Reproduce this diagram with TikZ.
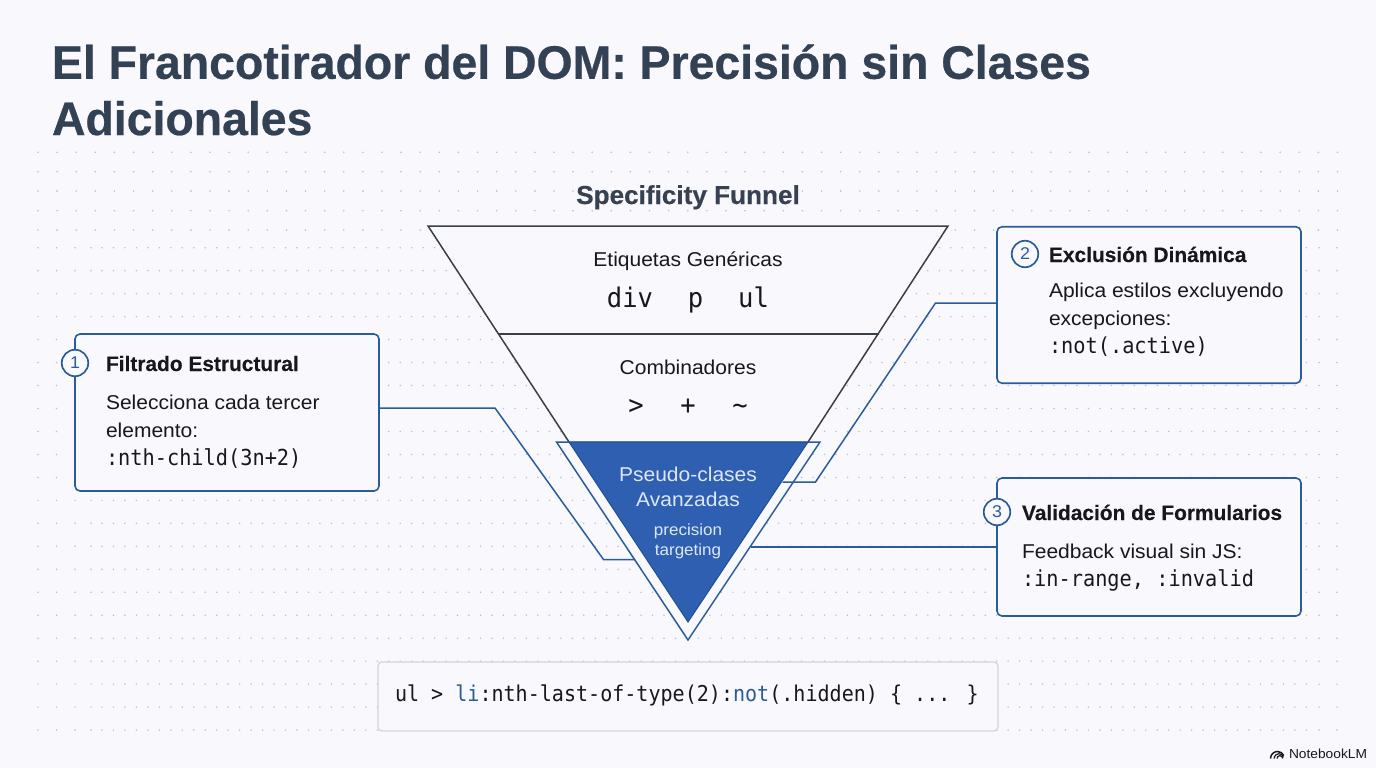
\documentclass[tikz,border=0pt]{standalone}
\usepackage{fontspec}
\setmainfont{Liberation Sans}
\newfontfamily\titlef[UprightFont=* Bold,FakeStretch=.987,FakeBold=.5]{Liberation Sans}
\newfontfamily\subf[UprightFont=* Bold,FakeStretch=1.005,FakeBold=.4]{Liberation Sans}
\newfontfamily\headf[UprightFont=* Bold,FakeStretch=.995,FakeBold=.3]{Liberation Sans}
\newfontfamily\bodyf[FakeStretch=1.05]{Liberation Sans}
\newfontfamily\codef[FakeStretch=.92]{DejaVu Sans Mono}
\newfontfamily\bigcodef[FakeStretch=.945]{DejaVu Sans Mono}
\definecolor{pagebg}{HTML}{F8F8FD}
\definecolor{dotc}{HTML}{BDBFCA}
\definecolor{slate}{HTML}{334155}
\definecolor{subslate}{HTML}{374151}
\definecolor{ink}{HTML}{16181D}
\definecolor{linkblue}{HTML}{2A5B9B}
\definecolor{fillblue}{HTML}{2F5FB0}
\definecolor{edgeblue}{HTML}{23508F}
\definecolor{funnelline}{HTML}{3A3F47}
\definecolor{codeline}{HTML}{D4D5DB}
\definecolor{paleblue}{HTML}{DCE7F7}
\tikzset{
  txt/.style={inner sep=0pt,outer sep=0pt,anchor=base west,text=ink},
  ctxt/.style={inner sep=0pt,outer sep=0pt,anchor=base,text=ink},
  titletxt/.style={txt,text=slate,font=\titlef\fontsize{47}{47}\selectfont},
  cardbox/.style={draw=linkblue,line width=1.6pt,fill=pagebg,rounded corners=5pt,inner sep=0pt,outer sep=0pt},
  badge/.style={circle,draw=linkblue,line width=1.7pt,fill=pagebg,minimum size=26.5pt,inner sep=0pt,text=linkblue,font=\bodyf\fontsize{17}{17}\selectfont},
  conn/.style={draw=linkblue,line width=1.5pt,line join=miter},
  cardhead/.style={txt,font=\headf\fontsize{21}{21}\selectfont},
  cardbody/.style={txt,font=\bodyf\fontsize{20}{20}\selectfont},
  cardcode/.style={txt,font=\codef\fontsize{22.05}{22.05}\selectfont},
  funneltxt/.style={ctxt,font=\bodyf\fontsize{20}{20}\selectfont},
  funnelsmall/.style={ctxt,text=paleblue,font=\bodyf\fontsize{16.2}{16.2}\selectfont},
  funnelcode/.style={ctxt,font=\bigcodef\fontsize{27}{27}\selectfont},
}
\begin{document}
\begin{tikzpicture}[x=1pt,y=-1pt]
\useasboundingbox (0,0) rectangle (1376,768);
\fill[pagebg] (0,0) rectangle (1376,768);
% dot grid
\fill[dotc] \foreach \k in {0,...,68} { \foreach \j in {152.3,171.7,191,210.7,230} { ({38+19.11*\k},\j) circle[radius=0.9pt] } };
\fill[dotc] \foreach \j in {0,...,21} { \foreach \xx in {38,56.5,75,91,1319,1337} { (\xx,{247.7+22.97*\j}) circle[radius=0.85pt] } };
\fill[dotc] \foreach \k in {0,...,105} { \foreach \j in {0,...,21} { ({102+11.47*\k},{247.7+22.97*\j}) circle[radius=0.85pt] } };
% title
\node[titletxt] (title1) at (52,78.8) {El Francotirador del DOM: Precisión sin Clases};
\node[titletxt] (title2) at (52,135) {Adicionales};
\node[ctxt,text=subslate,font=\subf\fontsize{26}{26}\selectfont] (ftitle) at (688,204) {Specificity Funnel};
% funnel
\coordinate (fTL) at (428,226);
\coordinate (fTR) at (948,226);
\coordinate (fBL) at (569,442);
\coordinate (fBR) at (808,442);
\coordinate (mL) at (498,334);
\coordinate (mR) at (879,334);
\coordinate (apex) at (688,622);
\coordinate (oL) at (556.5,442);
\coordinate (oR) at (820,442);
\coordinate (oA) at (688,640);
\fill[pagebg] (fTL) -- (fTR) -- (fBR) -- (fBL) -- cycle;
\draw[draw=funnelline,line width=1.5pt,line join=miter] (fBL) -- (fTL) -- (fTR) -- (fBR);
\draw[draw=funnelline,line width=1.5pt] (mL) -- (mR);
\draw[draw=linkblue,line width=1.5pt,fill=pagebg,line join=miter] (oL) -- (oR) -- (oA) -- cycle;
\draw[draw=edgeblue,line width=1pt,fill=fillblue,line join=miter] (fBL) -- (fBR) -- (apex) -- cycle;
% funnel text
\node[funneltxt] (t1) at (688,266) {Etiquetas Genéricas};
\node[funnelcode] (c1a) at (630,307) {div};
\node[funnelcode] (c1b) at (695.5,307) {p};
\node[funnelcode] (c1c) at (753.5,307) {ul};
\node[funneltxt] (t2) at (688,374) {Combinadores};
\node[funnelcode] (c2a) at (636,414) {>};
\node[funnelcode] (c2b) at (688,414) {+};
\node[funnelcode] (c2c) at (740,414) {\char`\~};
\node[funneltxt,text=paleblue] (t3a) at (688,481) {Pseudo-clases};
\node[funneltxt,text=paleblue] (t3b) at (688,506) {Avanzadas};
\node[funnelsmall] (t3c) at (688,535) {precision};
\node[funnelsmall] (t3d) at (688,555) {targeting};
% cards
\node[cardbox,minimum width=304pt,minimum height=157pt] (cardA) at (227,412.5) {};
\node[cardbox,minimum width=304pt,minimum height=156.5pt] (cardB) at (1149,305) {};
\node[cardbox,minimum width=304pt,minimum height=138pt] (cardC) at (1149,547) {};
% connectors
\coordinate (a1) at (495,408);
\coordinate (a2) at (603.5,559.5);
\coordinate (a3) at (634.5,559.5);
\draw[conn] (cardA.east |- a1) -- (a1) -- (a2) -- (a3);
\coordinate (b1) at (935.5,303);
\coordinate (b2) at (815.5,482);
\coordinate (b3) at (782.5,482);
\draw[conn] (cardB.west |- b1) -- (b1) -- (b2) -- (b3);
\coordinate (c1) at (750.5,547);
\draw[conn] (cardC.west |- c1) -- (c1);
% badges
\node[badge] (n1) at (75,363) {1};
\node[badge] (n2) at (1025,254) {2};
\node[badge] (n3) at (997,512) {3};
% card text
\node[cardhead] (ah) at (106,371) {Filtrado Estructural};
\node[cardbody] (ab1) at (106,409) {Selecciona cada tercer};
\node[cardbody] (ab2) at (106,437) {elemento:};
\node[cardcode] (ac) at (106,465) {:nth-child(3n+2)};
\node[cardhead] (bh) at (1049,262) {Exclusión Dinámica};
\node[cardbody] (bb1) at (1049,297) {Aplica estilos excluyendo};
\node[cardbody] (bb2) at (1049,325) {excepciones:};
\node[cardcode] (bc) at (1049,353) {:not(.active)};
\node[cardhead] (ch) at (1022,520) {Validación de Formularios};
\node[cardbody] (cb1) at (1022,558) {Feedback visual sin JS:};
\node[cardcode] (cc) at (1022,586) {:in-range, :invalid};
% code bar
\node[draw=codeline,line width=1.3pt,fill=pagebg,rounded corners=4pt,minimum width=620pt,minimum height=69pt,inner sep=0pt] (codebar) at (688,696.5) {};
\node[cardcode,font=\codef\fontsize{21.8}{21.8}\selectfont] (codetext) at (395,701) {ul > \textcolor{linkblue}{li}:nth-last-of-type(2):\textcolor{linkblue}{not}(.hidden) \{ ... \}};
% brand
\node[txt,font=\bodyf\fontsize{13.1}{13.1}\selectfont] (brand) at (1289,758) {NotebookLM};
\draw[ink,line width=1.5pt] (1270.5,758.5) arc[start angle=180,end angle=25,radius=7pt];
\draw[ink,line width=1.2pt] (1274,758.5) arc[start angle=180,end angle=15,radius=4.8pt];
\draw[ink,line width=1.2pt] (1277,758.5) arc[start angle=180,end angle=0,radius=2.8pt];
\end{tikzpicture}
\end{document}
